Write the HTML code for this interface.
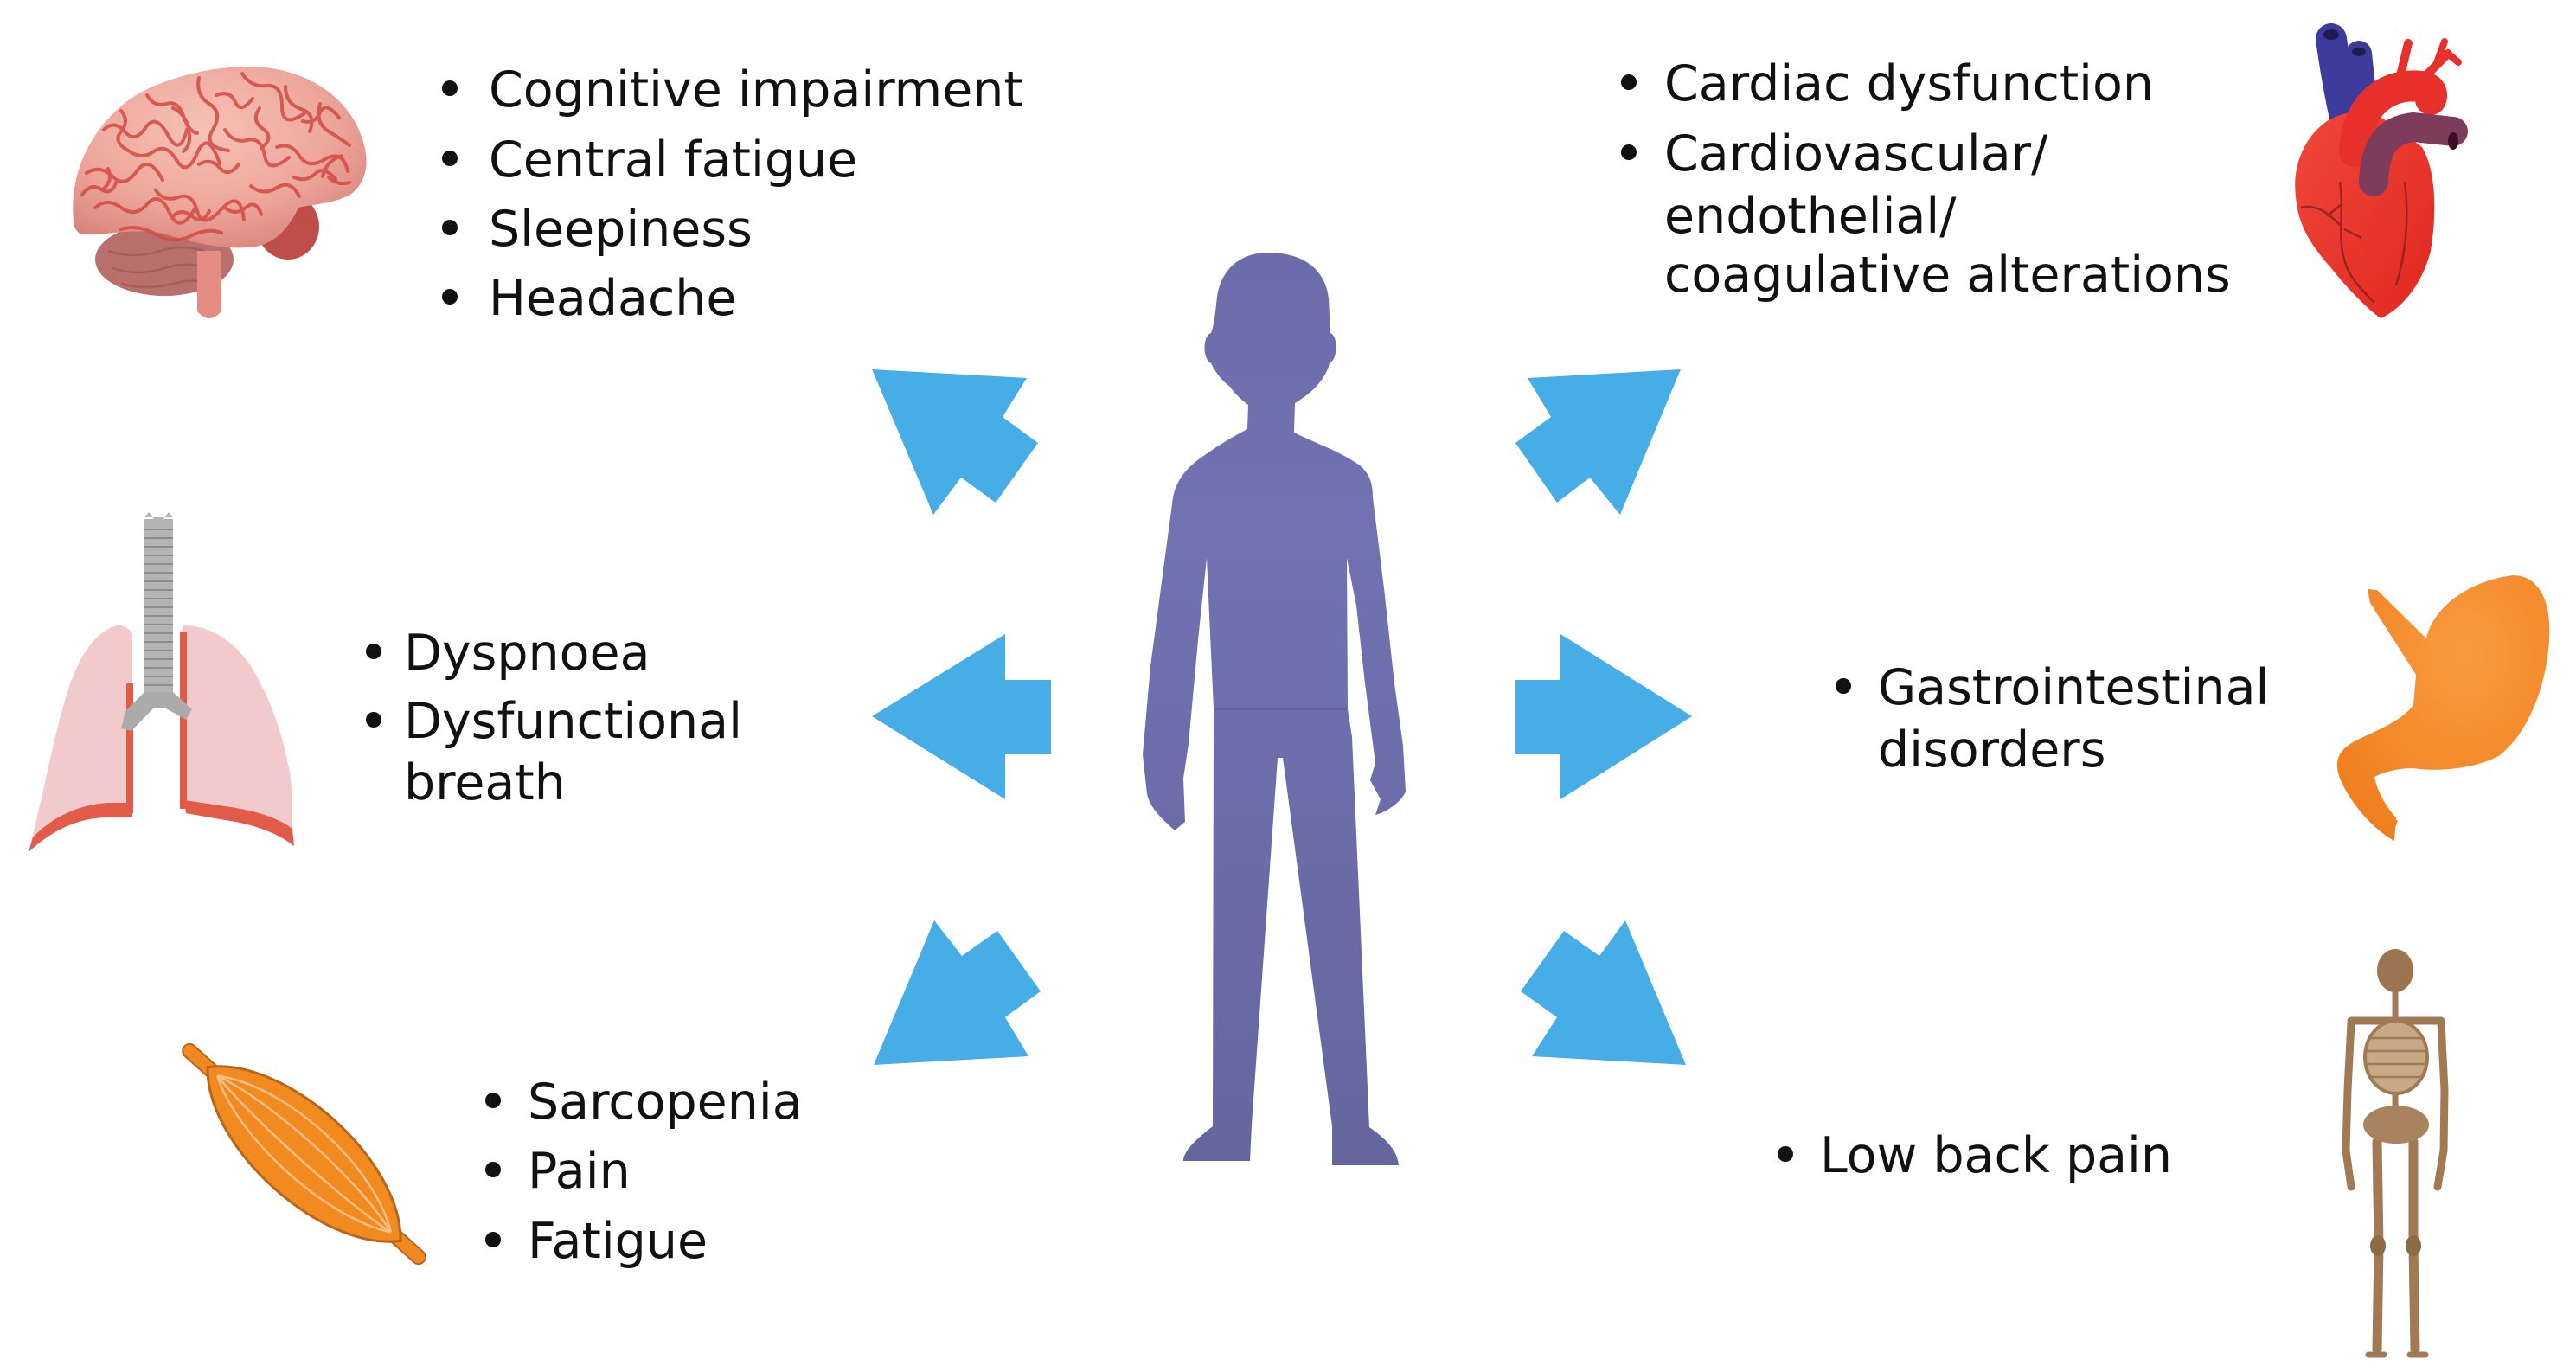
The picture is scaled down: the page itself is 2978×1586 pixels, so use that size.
<!DOCTYPE html>
<html>
<head>
<meta charset="utf-8">
<style>
  html,body{margin:0;padding:0;background:#fff;}
  svg{display:block;}
  text{font-family:"DejaVu Sans","Liberation Sans",sans-serif;font-size:57px;fill:#111;}
</style>
</head>
<body>
<svg width="2978" height="1586" viewBox="0 0 2978 1586" xmlns="http://www.w3.org/2000/svg">
  <defs>
    <radialGradient id="brainG" cx="0.45" cy="0.35" r="0.7">
      <stop offset="0" stop-color="#F6C2B6"/>
      <stop offset="0.6" stop-color="#EEA79C"/>
      <stop offset="1" stop-color="#D9857C"/>
    </radialGradient>
    <linearGradient id="heartG" x1="0" y1="0" x2="1" y2="1">
      <stop offset="0" stop-color="#F2473C"/>
      <stop offset="1" stop-color="#E0281F"/>
    </linearGradient>
    <radialGradient id="stomG" cx="0.6" cy="0.3" r="0.8">
      <stop offset="0" stop-color="#FA9A40"/>
      <stop offset="1" stop-color="#EE7E1E"/>
    </radialGradient>
    <linearGradient id="figG" x1="0" y1="0" x2="0" y2="1">
      <stop offset="0" stop-color="#6C6CAA"/>
      <stop offset="0.3" stop-color="#7172B2"/>
      <stop offset="1" stop-color="#65669E"/>
    </linearGradient>
  </defs>
  <rect width="2978" height="1586" fill="#fff"/>

  <!-- ===== BRAIN ===== -->
  <g>
    <ellipse cx="190" cy="300" rx="80" ry="42" fill="#B9706D"/>
    <g fill="none" stroke="#9E5553" stroke-width="2.5" opacity="0.7">
      <path d="M125 290 q30 10 60 0 t60 4"/>
      <path d="M130 310 q30 10 60 0 t60 4"/>
      <path d="M140 328 q30 8 60 0 t50 2"/>
    </g>
    <ellipse cx="333" cy="262" rx="36" ry="38" fill="#BF4E48"/>
    <path d="M228 290 L256 290 L256 360 Q242 376 228 360 Z" fill="#E58C84"/>
    <path d="M85 255 C78 190 118 128 170 103 C220 80 280 72 320 80 C370 90 405 120 418 158 C428 185 425 210 405 225 C385 236 360 236 345 240 C335 262 318 282 295 285 C260 290 220 280 190 270 C150 262 110 275 92 270 C86 265 85 260 85 255 Z" fill="url(#brainG)"/>
    <g fill="none" stroke="#D24B44" stroke-width="4" stroke-linecap="round" opacity="0.85">
      <path d="M120 150 q12 -12 24 2 t24 -4 t26 8 t22 -6"/>
      <path d="M170 110 q8 14 22 10 t20 14 t16 20"/>
      <path d="M230 90 q-4 20 12 30 t4 30 t18 24"/>
      <path d="M280 85 q10 16 28 14 t18 24 t26 8"/>
      <path d="M330 100 q0 20 18 26 t10 26"/>
      <path d="M370 120 q-6 22 10 32 t24 16"/>
      <path d="M100 200 q16 -10 30 4 t28 -6 t30 10"/>
      <path d="M150 175 q14 10 28 0 t26 10 t24 -8 t26 12"/>
      <path d="M260 150 q10 16 26 12 t20 18 t28 2"/>
      <path d="M320 170 q16 -6 26 10 t30 4 t26 14"/>
      <path d="M110 240 q14 -12 30 0 t30 -4 t26 10 t30 -6"/>
      <path d="M180 220 q10 14 26 8 t22 16 t28 -2 t26 12"/>
      <path d="M290 215 q14 12 30 2 t26 10"/>
      <path d="M140 265 q20 -6 40 6 t40 2 t36 -4"/>
      <path d="M200 125 q14 6 18 24 t-6 26"/>
      <path d="M395 180 q-18 6 -22 24"/>
      <path d="M95 225 q10 -14 22 -6 t18 -10"/>
      <path d="M140 128 q10 12 0 24 t8 22"/>
      <path d="M250 110 q16 -6 22 8 t20 -4"/>
      <path d="M300 125 q-10 14 4 24 t-2 22"/>
      <path d="M350 140 q14 4 20 -10 t22 6"/>
      <path d="M230 190 q14 -8 24 4 t22 -4"/>
      <path d="M340 205 q14 6 24 -4 t24 6"/>
      <path d="M125 195 q6 14 -6 24"/>
      <path d="M380 205 q10 10 24 6"/>
      <path d="M200 250 q10 -10 22 0 t20 -6"/>
      <path d="M260 240 q12 10 24 0 t18 8"/>
    </g>
  </g>

  <!-- ===== HEART ===== -->
  <g>
    <path d="M2695 45 C2700 80 2705 110 2712 140" stroke="#3D3B9C" stroke-width="36" fill="none" stroke-linecap="round"/>
    <path d="M2727 62 C2730 90 2732 110 2735 135" stroke="#3D3B9C" stroke-width="30" fill="none" stroke-linecap="round"/>
    <ellipse cx="2695" cy="40" rx="9" ry="6" fill="#1E1C50"/>
    <ellipse cx="2727" cy="60" rx="8" ry="5" fill="#1E1C50"/>
    <path d="M2655 235 C2648 195 2662 160 2690 140 C2710 128 2735 125 2760 140 L2800 170 C2815 195 2818 240 2810 290 C2800 330 2775 358 2752 368 C2735 355 2715 335 2695 310 C2670 282 2658 260 2655 235 Z" fill="url(#heartG)"/>
    <g stroke="#E8302A" fill="none" stroke-linecap="round">
      <path d="M2722 175 C2725 120 2760 95 2800 100 C2812 102 2812 110 2810 115" stroke-width="36"/>
      <path d="M2772 100 L2784 50" stroke-width="10"/>
      <path d="M2800 92 L2830 62" stroke-width="10"/>
      <path d="M2815 78 L2826 48" stroke-width="8"/>
      <path d="M2830 62 L2842 72" stroke-width="8"/>
    </g>
    <path d="M2744 210 C2746 168 2760 150 2790 147 L2836 152" stroke="#7E3C5C" stroke-width="34" fill="none" stroke-linecap="round"/>
    <ellipse cx="2836" cy="163" rx="6" ry="10" fill="#3A1020"/>
    <g stroke="#8E1E1E" stroke-width="2.5" fill="none" opacity="0.8">
      <path d="M2705 210 C2710 240 2702 270 2710 300 C2715 320 2730 335 2745 350"/>
      <path d="M2708 235 L2690 250 M2710 265 L2730 275"/>
      <path d="M2780 210 C2785 250 2782 290 2770 330"/>
      <path d="M2660 240 C2680 235 2695 250 2705 260"/>
    </g>
  </g>

  <!-- ===== LUNGS ===== -->
  <g>
    <path d="M135 723 C110 730 90 760 78 800 C62 850 50 920 33 985 C60 960 90 945 125 945 L153 945 L153 732 C148 725 142 722 135 723 Z" fill="#F3CACB"/>
    <path d="M33 985 C60 960 90 945 125 945 L153 945 L153 928 L125 928 C90 930 60 945 38 968 Z" fill="#E25A48"/>
    <rect x="146" y="790" width="8" height="150" fill="#E25A48"/>
    <path d="M212 723 C240 722 270 740 290 770 C315 810 330 860 336 900 C340 940 336 960 340 978 C320 962 290 952 260 948 L215 940 L210 730 Z" fill="#F3CACB"/>
    <path d="M340 978 C320 962 290 952 260 948 L215 940 L213 925 L260 932 C290 936 320 944 338 958 Z" fill="#E25A48"/>
    <rect x="208" y="730" width="8" height="205" fill="#E25A48"/>
    <rect x="167" y="600" width="33" height="205" fill="#B4B4B4"/>
    <path d="M167 598 L172 592 L178 600 L189 600 L195 592 L200 598 Z" fill="#B4B4B4"/>
    <g stroke="#8C8C8C" stroke-width="2">
      <path d="M167 612 H200 M167 622 H200 M167 632 H200 M167 642 H200 M167 652 H200 M167 662 H200 M167 672 H200 M167 682 H200 M167 692 H200 M167 702 H200 M167 712 H200 M167 722 H200 M167 732 H200 M167 742 H200 M167 752 H200 M167 762 H200 M167 772 H200 M167 782 H200 M167 792 H200"/>
    </g>
    <path d="M167 800 L145 822 L140 842 L152 845 L178 818 L190 818 L215 832 L222 820 L200 800 Z" fill="#ABABAB"/>
  </g>

  <!-- ===== MUSCLE ===== -->
  <g transform="translate(351.5,1334) rotate(42)">
    <rect x="-186" y="-8" width="50" height="16" rx="8" fill="#F08A20" stroke="#B8661A" stroke-width="2"/>
    <rect x="136" y="-8" width="50" height="16" rx="8" fill="#F08A20" stroke="#B8661A" stroke-width="2"/>
    <path d="M-150 0 C-90 -70 90 -70 150 0 C90 70 -90 70 -150 0 Z" fill="#F28B1F" stroke="#B8661A" stroke-width="3"/>
    <g fill="none" stroke="#F7BE86" stroke-width="2.5">
      <path d="M-135 0 C-70 -45 70 -45 135 0"/>
      <path d="M-135 0 C-70 -20 70 -20 135 0"/>
      <path d="M-135 0 C-70 10 70 10 135 0"/>
      <path d="M-135 0 C-70 38 70 38 135 0"/>
    </g>
  </g>

  <!-- ===== STOMACH ===== -->
  <path d="M2737 681 L2748 682 L2805 738 C2812 705 2850 672 2905 665 C2935 665 2950 695 2947 740 C2944 790 2925 845 2890 873 C2860 890 2815 892 2790 888 C2770 888 2755 893 2745 898 C2748 915 2760 935 2770 945 L2768 972 C2745 960 2718 930 2705 900 C2698 880 2703 868 2720 858 C2745 845 2775 835 2790 815 L2793 780 L2740 697 Z" fill="url(#stomG)"/>
  <path d="M2765 968 L2758 950 L2772 948 Z" fill="#EE7E1E"/>

  <!-- ===== SKELETON ===== -->
  <g stroke="#A07A55" fill="none" stroke-linecap="round">
    <line x1="2769" y1="1145" x2="2769" y2="1305" stroke-width="7"/>
    <line x1="2718" y1="1180" x2="2822" y2="1180" stroke-width="9"/>
    <path d="M2718 1182 L2714 1260 L2712 1330 L2718 1372" stroke-width="9"/>
    <path d="M2822 1182 L2826 1260 L2825 1330 L2818 1372" stroke-width="9"/>
    <path d="M2748 1320 L2750 1440 L2748 1560" stroke-width="11"/>
    <path d="M2790 1320 L2790 1440 L2792 1560" stroke-width="11"/>
    <path d="M2738 1566 L2756 1566 M2786 1566 L2804 1566" stroke-width="7"/>
  </g>
  <ellipse cx="2769" cy="1122" rx="21" ry="25" fill="#9C7550"/>
  <ellipse cx="2770" cy="1222" rx="36" ry="42" fill="#C7A887" stroke="#A07A55" stroke-width="4"/>
  <g stroke="#A07A55" stroke-width="2.5">
    <path d="M2738 1200 H2802 M2736 1215 H2804 M2736 1230 H2804 M2740 1245 H2800"/>
  </g>
  <ellipse cx="2770" cy="1300" rx="38" ry="22" fill="#A98260"/>
  <ellipse cx="2749" cy="1440" rx="9" ry="12" fill="#8E6A47"/>
  <ellipse cx="2790" cy="1440" rx="9" ry="12" fill="#8E6A47"/>

  <!-- ===== ARROWS ===== -->
  <g fill="#46ADE6">
    <polygon points="1008,427 1187,437 1159,482 1200,512 1151,581 1111,552 1079,595"/>
    <polygon points="1008,828 1162,733 1162,786 1215,786 1215,872 1162,872 1162,924"/>
    <polygon points="1010,1231 1189,1221 1162,1176 1203,1146 1153,1076 1112,1105 1080,1064"/>
    <polygon points="1943,427 1766,437 1793,482 1752,512 1800,581 1838,552 1873,595"/>
    <polygon points="1956,828 1804,733 1804,786 1752,786 1752,872 1804,872 1804,924"/>
    <polygon points="1949,1231 1771,1221 1800,1176 1758,1146 1808,1076 1849,1105 1879,1064"/>
  </g>

  <!-- ===== HUMAN FIGURE ===== -->
  <path fill="url(#figG)" d="
    M1466 292
    C1505 292 1532 310 1536 345
    L1538 385
    C1547 388 1547 415 1537 420
    C1532 440 1515 455 1497 466
    L1496 500
    C1520 512 1550 522 1572 538
    C1584 548 1587 560 1587 575
    L1600 680 L1612 790 L1622 862
    L1625 915
    C1620 928 1600 940 1590 942
    L1596 924 L1584 902 L1590 882
    L1578 790 L1568 700 L1557 645
    L1558 820 L1563 852
    L1583 1303
    C1600 1315 1615 1328 1617 1347
    L1540 1347 L1540 1302
    L1483 876 L1477 876
    L1447 1300 L1445 1342 L1368 1342
    C1368 1330 1385 1315 1402 1302
    L1403 820 L1395 645
    L1385 740 L1374 860
    L1368 900 L1370 950 L1358 960
    C1342 945 1330 935 1326 918
    L1321 872 L1330 770 L1342 680 L1356 575
    C1360 555 1372 540 1390 528
    C1408 515 1425 505 1442 496
    L1443 468
    C1432 460 1425 452 1422 447
    C1412 440 1405 430 1400 420
    C1390 415 1390 388 1400 385
    C1404 375 1405 360 1407 343
    C1412 310 1435 292 1466 292 Z"/>
  <path d="M1404 820 H1557" stroke="#5E5F96" stroke-width="2" opacity="0.6"/>

  <!-- ===== TEXT ===== -->
  <g fill="#111">
    <circle cx="520" cy="102" r="9"/><circle cx="520" cy="183" r="9"/><circle cx="520" cy="263" r="9"/><circle cx="520" cy="343" r="9"/>
    <circle cx="1883" cy="95" r="9"/><circle cx="1883" cy="176" r="9"/>
    <circle cx="432" cy="753" r="9"/><circle cx="432" cy="832" r="9"/>
    <circle cx="570" cy="1272" r="9"/><circle cx="570" cy="1352" r="9"/><circle cx="570" cy="1433" r="9"/>
    <circle cx="2131" cy="793" r="9"/>
    <circle cx="2064" cy="1334" r="9"/>
  </g>
  <text x="565" y="123">Cognitive impairment</text>
  <text x="565" y="204">Central fatigue</text>
  <text x="565" y="284">Sleepiness</text>
  <text x="565" y="364">Headache</text>

  <text x="1924" y="116">Cardiac dysfunction</text>
  <text x="1924" y="197">Cardiovascular/</text>
  <text x="1924" y="269">endothelial/</text>
  <text x="1924" y="337">coagulative alterations</text>

  <text x="467" y="774">Dyspnoea</text>
  <text x="467" y="853">Dysfunctional</text>
  <text x="467" y="924">breath</text>

  <text x="610" y="1293">Sarcopenia</text>
  <text x="610" y="1373">Pain</text>
  <text x="610" y="1454">Fatigue</text>

  <text x="2171" y="814">Gastrointestinal</text>
  <text x="2171" y="886">disorders</text>

  <text x="2104" y="1355">Low back pain</text>
</svg>
</body>
</html>
